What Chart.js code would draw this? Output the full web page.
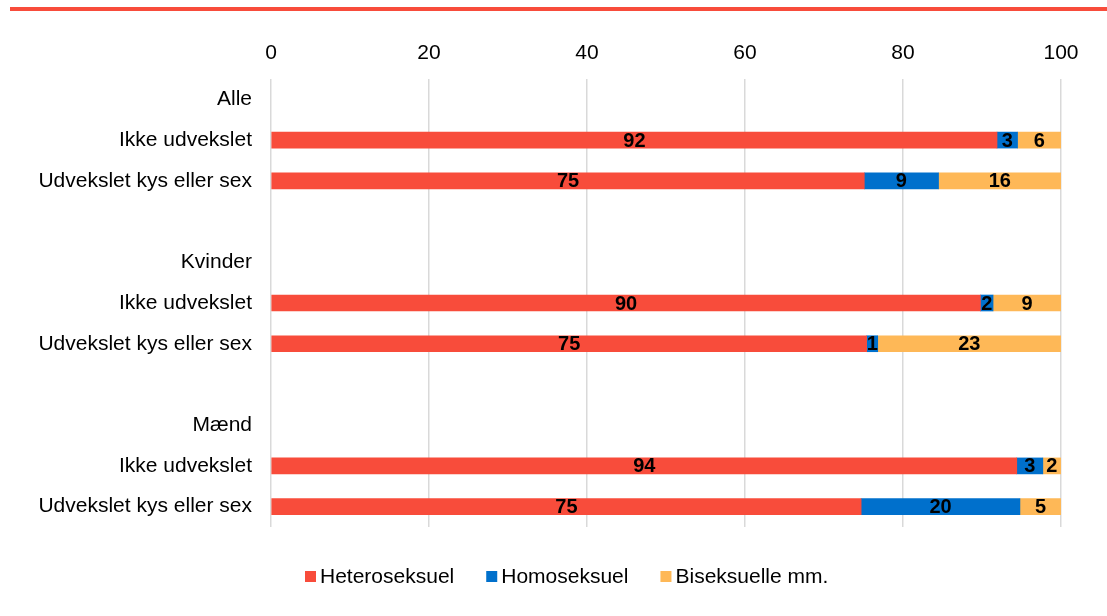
<!DOCTYPE html>
<html>
<head>
<meta charset="utf-8">
<script src="https://cdn.jsdelivr.net/npm/chart.js@4"></script>
<style>
  html, body { margin: 0; padding: 0; background: #fff; }
  .topline { position: absolute; left: 10px; right: 0; top: 7px; height: 4px; background: #f84c3b; }
  .wrap { position: absolute; left: 0; top: 0; width: 1107px; height: 616px; }
</style>
</head>
<body>
<div class="topline"></div>
<div class="wrap"><canvas id="myChart"></canvas></div>
<script>
const categories = ["Alle", "Ikke udvekslet", "Udvekslet kys eller sex", "",
  "Kvinder", "Ikke udvekslet", "Udvekslet kys eller sex", "",
  "Mænd", "Ikke udvekslet", "Udvekslet kys eller sex"];
const hetero = [null, 91.9, 75.1, null, null, 89.8, 75.4, null, null, 94.4, 74.7];
const homo   = [null, 2.6, 9.4, null, null, 1.6, 1.4, null, null, 3.3, 20.1];
const bi     = [null, 5.5, 15.5, null, null, 8.6, 23.2, null, null, 2.3, 5.2];
const xTicks = [0, 20, 40, 60, 80, 100];

const font = "'Liberation Sans', Arial, sans-serif";

// draws the rounded value in the middle of each segment
const segLabels = {
  id: "segLabels",
  afterDatasetsDraw(chart) {
    const c = chart.ctx;
    c.save();
    c.font = "bold 20px " + font;
    c.fillStyle = "#000";
    c.textAlign = "center";
    c.textBaseline = "middle";
    chart.data.datasets.forEach((ds, i) => {
      chart.getDatasetMeta(i).data.forEach((bar, j) => {
        const v = ds.data[j];
        if (v == null) return;
        const x = (bar.x + bar.base) / 2;
        c.fillText(Math.round(v), x, bar.y + 1);
      });
    });
    c.restore();
  }
};

// simple legend under the plot, small square + label
const bottomLegend = {
  id: "bottomLegend",
  afterDraw(chart) {
    const c = chart.ctx;
    c.save();
    c.font = "21px " + font;
    c.textBaseline = "middle";
    let x = 305;
    const y = 577;
    chart.data.datasets.forEach(ds => {
      c.fillStyle = ds.backgroundColor;
      c.fillRect(x, y - 6, 11, 11);
      c.fillStyle = "#000";
      c.fillText(ds.label, x + 15, y);
      x += 15 + c.measureText(ds.label).width + 32;
    });
    c.restore();
  }
};

const ctx = document.getElementById("myChart").getContext("2d");
new Chart(ctx, {
  type: "bar",
  data: {
    labels: categories,
    datasets: [
      { label: "Heteroseksuel", data: hetero, backgroundColor: "#f84c3b" },
      { label: "Homoseksuel", data: homo, backgroundColor: "#0070cc" },
      { label: "Biseksuelle mm.", data: bi, backgroundColor: "#feb857" }
    ]
  },
  options: {
    indexAxis: "y",
    responsive: true,
    maintainAspectRatio: false,
    animation: false,
    layout: { padding: { top: 0, right: 46, left: 0, bottom: 89 } },
    datasets: { bar: { barThickness: 16, borderWidth: 0 } },
    scales: {
      x: {
        position: "top",
        stacked: true,
        min: 0, max: 100,
        afterBuildTicks: s => { s.ticks = xTicks.map(v => ({ value: v })); },
        afterFit: s => { s.height = 79; },
        grid: { color: "#d9d9d9", lineWidth: 1.5, drawTicks: false },
        border: { display: false },
        ticks: { color: "#000", font: { family: font, size: 21 }, padding: 13 }
      },
      y: {
        stacked: true,
        afterFit: s => { s.width = 271; },
        grid: { display: false },
        border: { display: false },
        ticks: { color: "#000", font: { family: font, size: 21 }, padding: 11, autoSkip: false }
      }
    },
    plugins: {
      legend: { display: false },
      tooltip: { enabled: false }
    }
  },
  plugins: [segLabels, bottomLegend]
});
</script>
</body>
</html>
